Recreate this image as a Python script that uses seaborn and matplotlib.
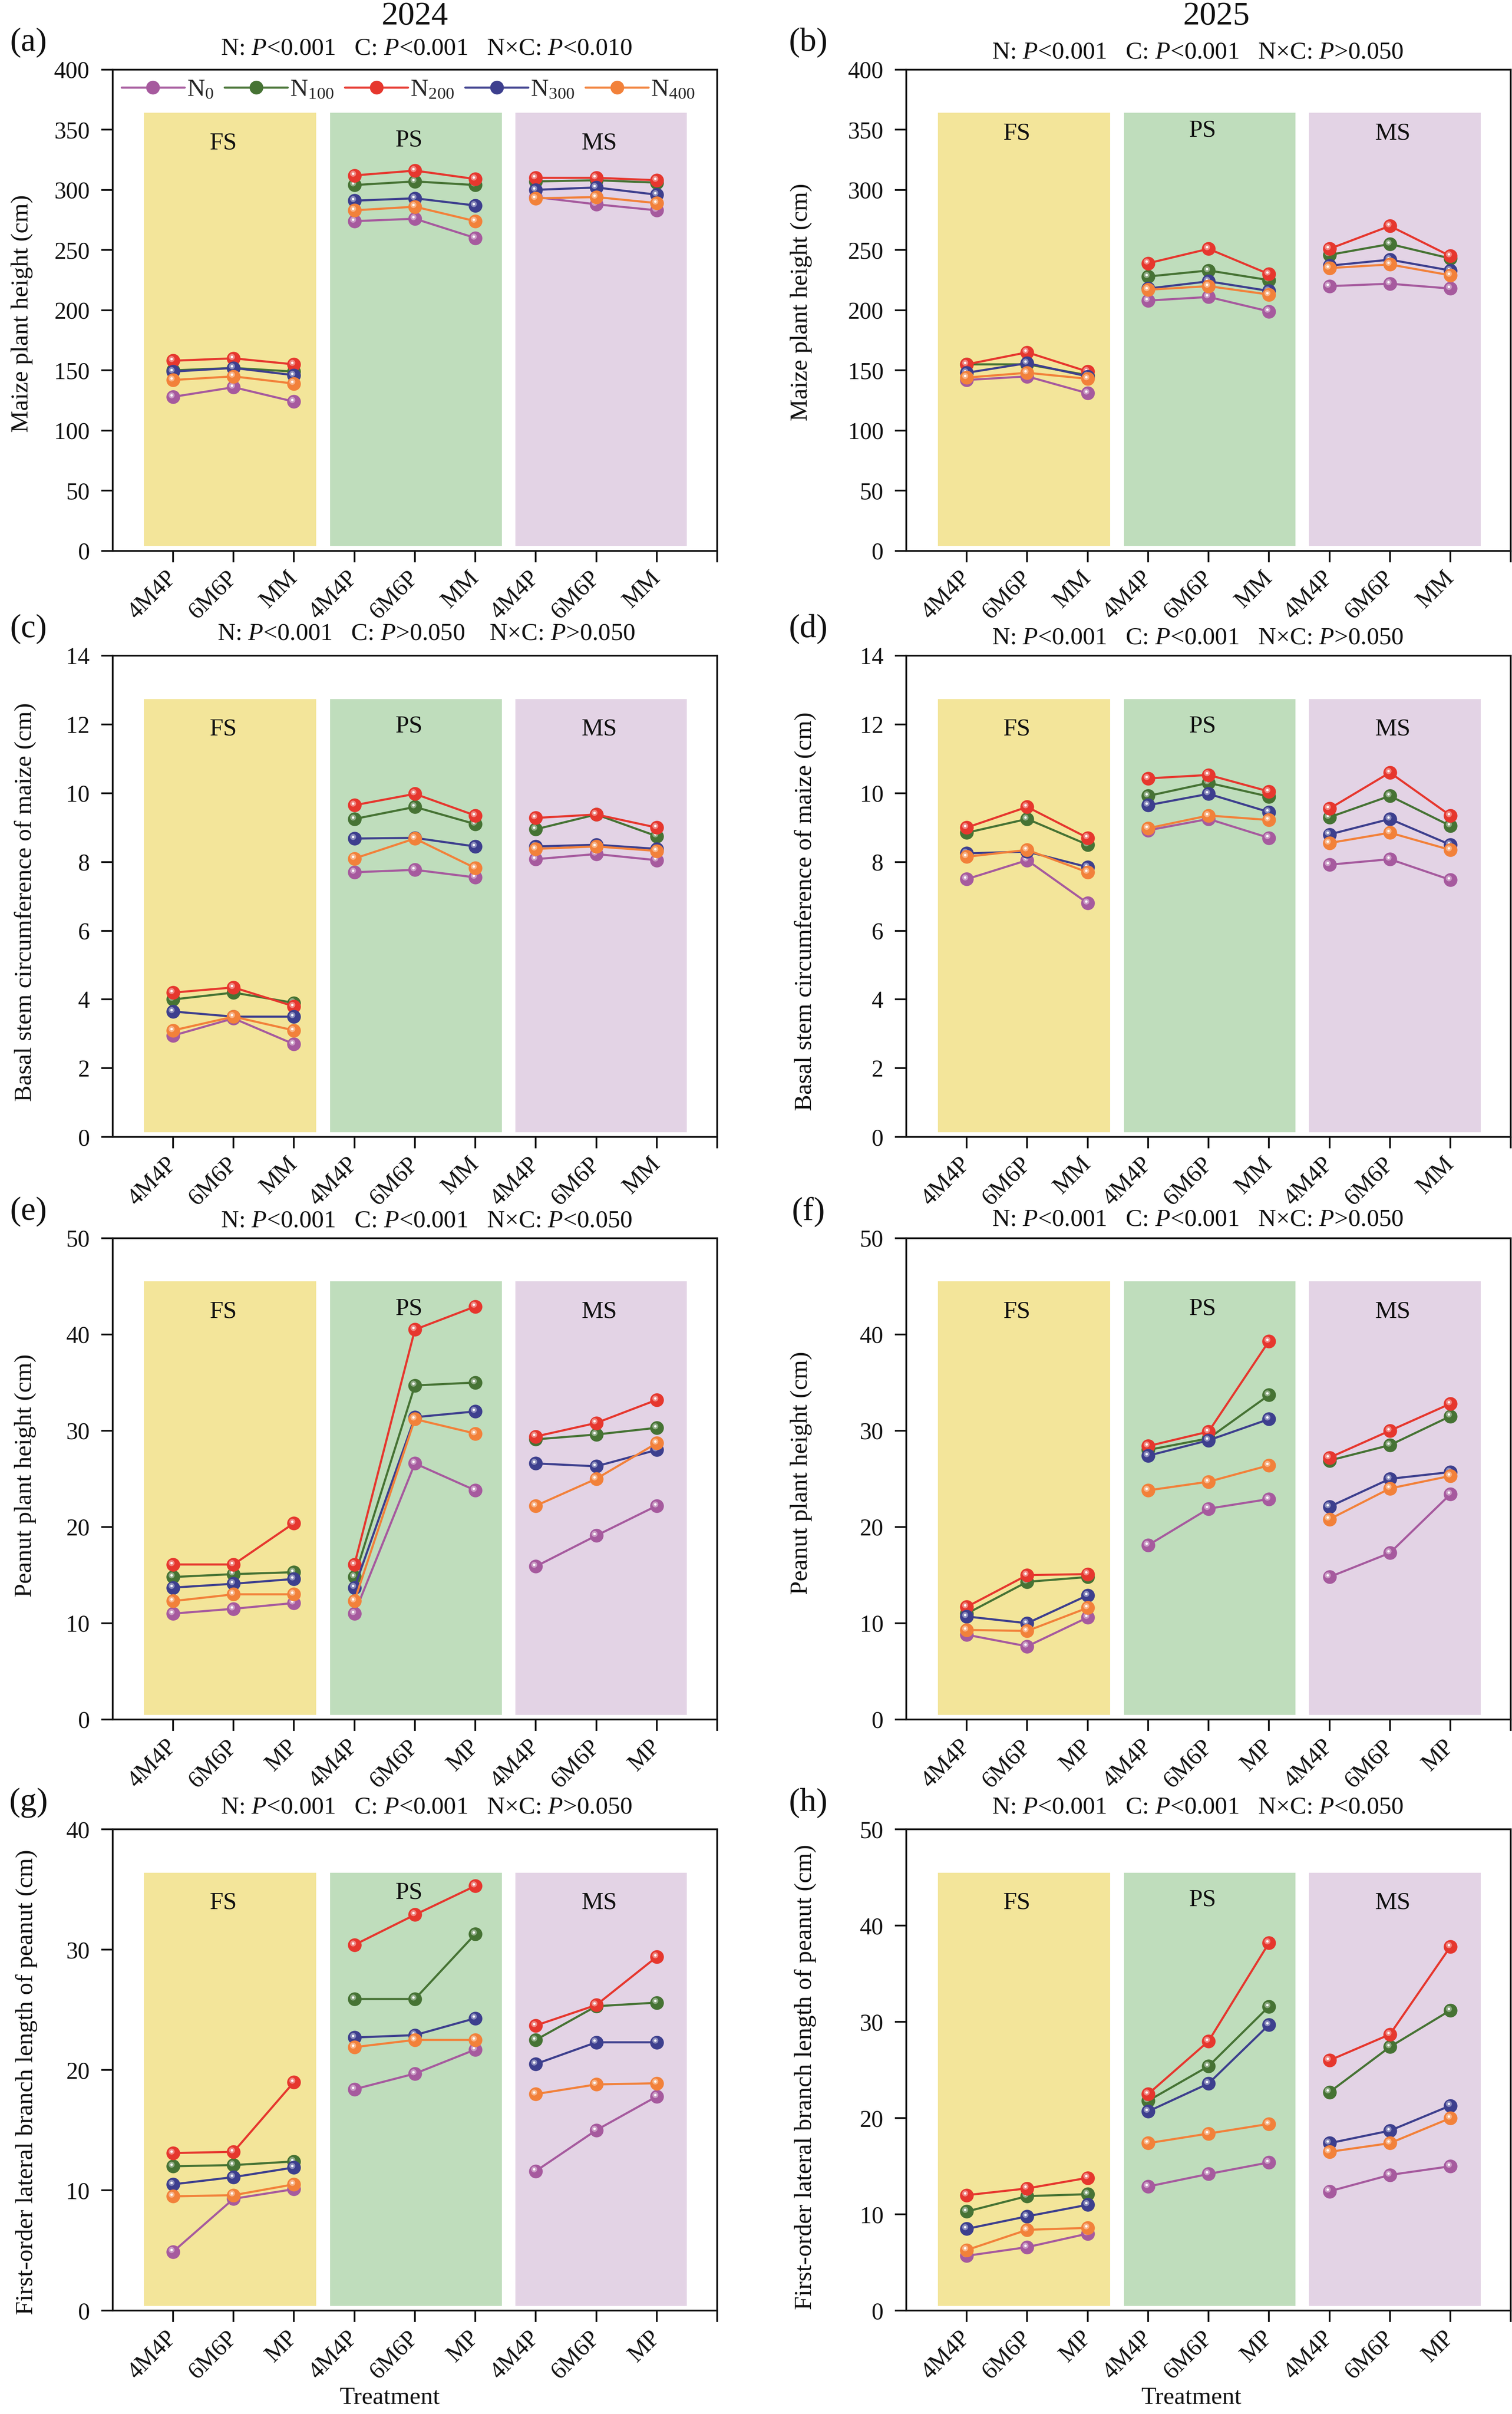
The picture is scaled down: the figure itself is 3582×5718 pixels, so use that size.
import numpy as np
import pandas as pd
import matplotlib
matplotlib.use("Agg")
import matplotlib.pyplot as plt
import matplotlib.transforms as mtransforms
from matplotlib.lines import Line2D
import seaborn as sns

sns.set_theme(style="ticks")
plt.rcParams["font.family"] = ["Liberation Serif", "DejaVu Serif"]
plt.rcParams["mathtext.fontset"] = "custom"
plt.rcParams["mathtext.rm"] = "Liberation Serif"
plt.rcParams["mathtext.it"] = "Liberation Serif:italic"

# ---- data (rows: N0, N100, N200, N300, N400; cols: FS x3, PS x3, MS x3) ----
n_levels = ["N0", "N100", "N200", "N300", "N400"]
n_labels = [r"N$_{0}$", r"N$_{100}$", r"N$_{200}$", r"N$_{300}$", r"N$_{400}$"]
n_colors = ["#A65A9E", "#467334", "#E6372E", "#3D3F8E", "#F2813A"]
systems = ["FS", "PS", "MS"]
sys_colors = ["#F3E59A", "#BFDDBC", "#E3D3E5"]
maize_trt = ["4M4P", "6M6P", "MM"]
peanut_trt = ["4M4P", "6M6P", "MP"]

maize_h_2024 = [
    [128, 136, 124, 274, 276, 260, 294, 288, 283],
    [150, 152, 149, 304, 307, 304, 307, 308, 306],
    [158, 160, 155, 312, 316, 309, 310, 310, 308],
    [149, 152, 146, 291, 293, 287, 300, 302, 296],
    [142, 145, 139, 283, 286, 274, 293, 294, 289],
]
maize_h_2025 = [
    [142, 145, 131, 208, 211, 199, 220, 222, 218],
    [155, 155, 146, 228, 233, 225, 246, 255, 243],
    [155, 165, 149, 239, 251, 230, 251, 270, 245],
    [148, 156, 145, 218, 224, 216, 237, 242, 233],
    [144, 148, 143, 217, 220, 213, 235, 238, 229],
]
stem_2024 = [
    [2.95, 3.45, 2.70, 7.70, 7.77, 7.55, 8.08, 8.23, 8.05],
    [4.00, 4.20, 3.90, 9.25, 9.60, 9.10, 8.95, 9.38, 8.75],
    [4.20, 4.35, 3.80, 9.65, 9.98, 9.35, 9.28, 9.38, 9.00],
    [3.65, 3.50, 3.50, 8.68, 8.70, 8.45, 8.45, 8.50, 8.38],
    [3.10, 3.50, 3.10, 8.10, 8.68, 7.82, 8.38, 8.45, 8.32],
]
stem_2025 = [
    [7.50, 8.05, 6.80, 8.92, 9.25, 8.70, 7.92, 8.08, 7.48],
    [8.85, 9.25, 8.50, 9.92, 10.30, 9.90, 9.30, 9.92, 9.05],
    [9.00, 9.60, 8.70, 10.43, 10.53, 10.05, 9.55, 10.60, 9.35],
    [8.25, 8.30, 7.85, 9.65, 9.98, 9.45, 8.80, 9.25, 8.50],
    [8.15, 8.35, 7.70, 8.98, 9.35, 9.22, 8.55, 8.85, 8.35],
]
peanut_h_2024 = [
    [11.0, 11.5, 12.1, 11.0, 26.6, 23.8, 15.9, 19.1, 22.2],
    [14.8, 15.1, 15.3, 14.8, 34.7, 35.0, 29.1, 29.6, 30.3],
    [16.1, 16.1, 20.4, 16.1, 40.5, 42.9, 29.4, 30.8, 33.2],
    [13.7, 14.1, 14.6, 13.7, 31.4, 32.0, 26.6, 26.3, 28.0],
    [12.3, 13.0, 13.0, 12.3, 31.2, 29.7, 22.2, 25.0, 28.7],
]
peanut_h_2025 = [
    [8.8, 7.6, 10.6, 18.1, 21.9, 22.9, 14.8, 17.3, 23.4],
    [11.0, 14.3, 14.8, 28.0, 29.2, 33.7, 26.9, 28.5, 31.5],
    [11.7, 15.0, 15.1, 28.4, 29.9, 39.3, 27.2, 30.0, 32.8],
    [10.7, 10.0, 12.9, 27.4, 29.0, 31.2, 22.1, 25.0, 25.7],
    [9.3, 9.2, 11.6, 23.8, 24.7, 26.4, 20.8, 24.0, 25.3],
]
branch_2024 = [
    [4.9, 9.3, 10.1, 18.4, 19.7, 21.7, 11.6, 15.0, 17.8],
    [12.0, 12.1, 12.4, 25.9, 25.9, 31.3, 22.5, 25.3, 25.6],
    [13.1, 13.2, 19.0, 30.4, 32.9, 35.3, 23.7, 25.4, 29.4],
    [10.5, 11.1, 11.9, 22.7, 22.9, 24.3, 20.5, 22.3, 22.3],
    [9.5, 9.6, 10.5, 21.9, 22.5, 22.5, 18.0, 18.8, 18.9],
]
branch_2025 = [
    [5.7, 6.6, 8.0, 12.9, 14.2, 15.4, 12.4, 14.1, 15.0],
    [10.3, 11.9, 12.1, 21.8, 25.4, 31.6, 22.7, 27.4, 31.2],
    [12.0, 12.7, 13.8, 22.5, 28.0, 38.2, 26.0, 28.7, 37.8],
    [8.5, 9.8, 11.0, 20.7, 23.6, 29.7, 17.4, 18.7, 21.3],
    [6.3, 8.4, 8.6, 17.4, 18.4, 19.4, 16.5, 17.4, 20.0],
]

p_a = "N: $P$<0.001   C: $P$<0.001   N\u00d7C: $P$<0.010"
p_b = "N: $P$<0.001   C: $P$<0.001   N\u00d7C: $P$>0.050"
p_c = "N: $P$<0.001   C: $P$>0.050    N\u00d7C: $P$>0.050"
p_d = "N: $P$<0.001   C: $P$<0.001   N\u00d7C: $P$>0.050"
p_e = "N: $P$<0.001   C: $P$<0.001   N\u00d7C: $P$<0.050"
p_f = "N: $P$<0.001   C: $P$<0.001   N\u00d7C: $P$>0.050"
p_g = "N: $P$<0.001   C: $P$<0.001   N\u00d7C: $P$>0.050"
p_h = "N: $P$<0.001   C: $P$<0.001   N\u00d7C: $P$<0.050"

ylab_mh = "Maize plant height (cm)"
ylab_st = "Basal stem circumference of maize (cm)"
ylab_ph = "Peanut plant height (cm)"
ylab_br = "First-order lateral branch length of peanut (cm)"

# panel: letter, data, ylabel, ymax, ystep, trt, ptext, column, row
panels = [
    ("(a)", maize_h_2024, ylab_mh, 400, 50, maize_trt, p_a, 0, 0),
    ("(b)", maize_h_2025, ylab_mh, 400, 50, maize_trt, p_b, 1, 0),
    ("(c)", stem_2024, ylab_st, 14, 2, maize_trt, p_c, 0, 1),
    ("(d)", stem_2025, ylab_st, 14, 2, maize_trt, p_d, 1, 1),
    ("(e)", peanut_h_2024, ylab_ph, 50, 10, peanut_trt, p_e, 0, 2),
    ("(f)", peanut_h_2025, ylab_ph, 50, 10, peanut_trt, p_f, 1, 2),
    ("(g)", branch_2024, ylab_br, 40, 10, peanut_trt, p_g, 0, 3),
    ("(h)", branch_2025, ylab_br, 50, 10, peanut_trt, p_h, 1, 3),
]

col_x = [0.0745, 0.5994]
row_y = [0.7718, 0.5290, 0.2877, 0.0428]
ax_w, ax_h = 0.3998, 0.1994
ylab_x = {"(a)": -0.132, "(b)": -0.156, "(c)": -0.126, "(d)": -0.149,
          "(e)": -0.126, "(f)": -0.156, "(g)": -0.124, "(h)": -0.149}
ylab_y = {"(a)": 0.493, "(b)": 0.517, "(c)": 0.488, "(d)": 0.469,
          "(e)": 0.507, "(f)": 0.512, "(g)": 0.475, "(h)": 0.485}
ptext_y = {"(a)": 1.043, "(b)": 1.035, "(c)": 1.045, "(d)": 1.036,
           "(e)": 1.035, "(f)": 1.038, "(g)": 1.045, "(h)": 1.045}
span_x = [(0.52, 3.37), (3.60, 6.44), (6.66, 9.50)]
sys_lab_x = [1.83, 4.90, 8.05]

MS = 7.8
LW = 1.2

fig = plt.figure(figsize=(3582 / 300, 5718 / 300), dpi=300)
fig.patch.set_facecolor("white")

for letter, values, ylab, ymax, ystep, trt, ptext, col, row in panels:
    ax = fig.add_axes([col_x[col], row_y[row], ax_w, ax_h])
    ax.set_facecolor("white")

    rows = []
    for lvl, vals in zip(n_levels, values):
        for i, v in enumerate(vals):
            rows.append({"x": i + 1, "value": v, "N": lvl, "system": systems[i // 3]})
    df = pd.DataFrame(rows)

    # background strips for the three systems
    for (x0, x1), sc in zip(span_x, sys_colors):
        ax.axvspan(x0, x1, ymin=0.01, ymax=0.91, color=sc, lw=0, zorder=0)

    sns.lineplot(data=df, x="x", y="value", hue="N", units="system",
                 estimator=None, hue_order=n_levels,
                 palette=dict(zip(n_levels, n_colors)), marker="o",
                 markersize=MS, linewidth=LW, legend=False, ax=ax, sort=False)

    # sphere-like markers: soft highlight up-left of centre
    hl = mtransforms.offset_copy(ax.transData, fig=fig, x=-1.0, y=1.0, units="points")
    for k, line in enumerate(list(ax.lines)):
        line.set_markeredgewidth(0)
        z = 2 + k * 0.01
        line.set_zorder(z)
        xd, yd = line.get_data()
        ax.plot(xd, yd, ls="none", marker="o", ms=3.4, color="white", alpha=0.4,
                mew=0, transform=hl, zorder=z + 0.003)
        ax.plot(xd, yd, ls="none", marker="o", ms=1.4, color="white", alpha=1.0,
                mew=0, transform=hl, zorder=z + 0.006)

    # axes, ticks
    ax.set_xlim(0, 10)
    ax.set_ylim(0, ymax)
    ax.set_yticks(np.arange(0, ymax + ystep / 2, ystep))
    ax.set_xticks(range(1, 11))
    ax.set_xticklabels(trt * 3 + [""])
    for lbl in ax.get_xticklabels():
        lbl.set_rotation(45)
        lbl.set_ha("right")
        lbl.set_va("center")
        lbl.set_rotation_mode("anchor")
    ax.tick_params(axis="both", direction="out", length=6.5, width=1.0,
                   color="#111111", labelsize=13.5, labelcolor="#111111")
    ax.tick_params(axis="x", pad=7)
    ax.tick_params(axis="y", pad=6.5)
    for sp in ax.spines.values():
        sp.set_linewidth(1.0)
        sp.set_color("#111111")

    ax.set_ylabel(ylab, fontsize=14, color="#111111")
    ax.yaxis.set_label_coords(ylab_x[letter], ylab_y[letter])
    if row == 3:
        ax.set_xlabel("Treatment", fontsize=14, color="#111111")
        ax.xaxis.set_label_coords(0.459 if col == 0 else 0.472, -0.158)
    else:
        ax.set_xlabel("")

    # system labels
    tr = ax.get_xaxis_transform()
    for s, sx in zip(systems, sys_lab_x):
        sy = 0.853 if s == "PS" else 0.847
        if letter == "(b)":
            sy += 0.02
        if letter == "(g)" and s == "PS":
            sy = 0.868
        ax.text(sx, sy, s, transform=tr, ha="center", va="center",
                fontsize=14, color="#111111")

    # annotations above the panel
    ax.text(0.519 if col == 0 else 0.482, ptext_y[letter], ptext,
            transform=ax.transAxes, ha="center", va="center", fontsize=14,
            color="#111111")
    ax.text(-0.139 if col == 0 else -0.162, 1.055, letter, transform=ax.transAxes,
            ha="center", va="center", fontsize=19, color="#111111")
    if row == 0:
        ax.text(0.5 if col == 0 else 0.513, 1.11, "2024" if col == 0 else "2025",
                transform=ax.transAxes, ha="center", va="center", fontsize=19,
                color="#111111")

    if letter == "(a)":
        handles = [Line2D([], [], color=c, lw=LW, marker="o", ms=MS, mew=0)
                   for c in n_colors]
        ax.legend(handles, n_labels, ncol=5, loc="center",
                  bbox_to_anchor=(0.489, 0.958), frameon=False, fontsize=14,
                  handlelength=2.55, handletextpad=0.1, columnspacing=0.45,
                  borderaxespad=0, borderpad=0)

fig.savefig("out.png", dpi=300, facecolor="white")
